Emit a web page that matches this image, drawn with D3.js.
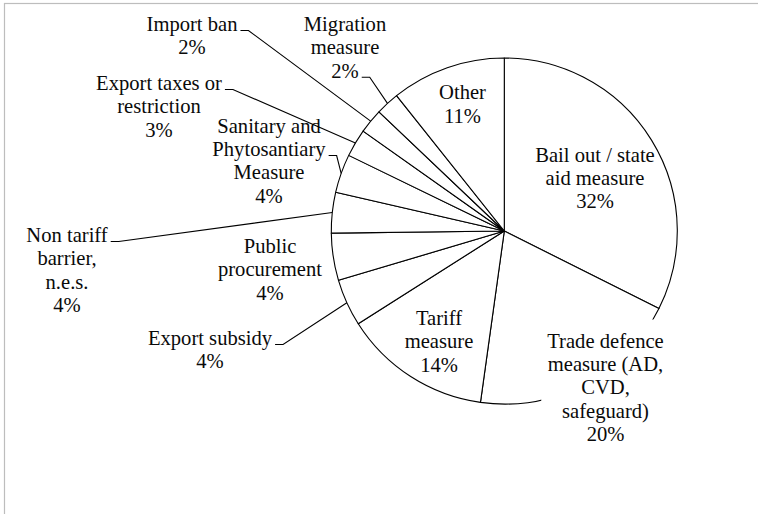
<!DOCTYPE html>
<html>
<head>
<meta charset="utf-8">
<script src="https://cdn.jsdelivr.net/npm/d3@7"></script>
<style>
  html, body { margin: 0; padding: 0; background: #fff; }
  svg { display: block; }
</style>
</head>
<body>
<svg id="chart" width="758" height="514"></svg>
<script>
// Share of measures, percent (clockwise from 12 o'clock)
const categories = [
  "Bail out / state aid measure",
  "Trade defence measure (AD, CVD, safeguard)",
  "Tariff measure",
  "Export subsidy",
  "Public procurement",
  "Non tariff barrier, n.e.s.",
  "Sanitary and Phytosantiary Measure",
  "Export taxes or restriction",
  "Import ban",
  "Migration measure",
  "Other"
];
const shares = [32.4, 19.8, 13.8, 4.4, 4.4, 3.8, 3.6, 2.6, 2.3, 2.2, 10.7];

// How each category name wraps in its label
const labelLines = [
  ["Bail out / state", "aid measure"],
  ["Trade defence", "measure (AD,", "CVD,", "safeguard)"],
  ["Tariff", "measure"],
  ["Export subsidy"],
  ["Public", "procurement"],
  ["Non tariff", "barrier,", "n.e.s."],
  ["Sanitary and", "Phytosantiary", "Measure"],
  ["Export taxes or", "restriction"],
  ["Import ban"],
  ["Migration", "measure"],
  ["Other"]
];

// Label placement: centre x, first baseline, line carrying the leader, opaque box
const labelLayout = [
  { x: 595,   y: 161.5 },
  { x: 605.5, y: 347.5, box: true },
  { x: 439,   y: 325 },
  { x: 210,   y: 345,   leader: 0 },
  { x: 270,   y: 253 },
  { x: 67,    y: 242,   leader: 0 },
  { x: 269,   y: 132.6, leader: 1 },
  { x: 159,   y: 90,    leader: 0 },
  { x: 192,   y: 31,    leader: 0 },
  { x: 345,   y: 31,    leader: 2 },
  { x: 462.5, y: 99.3 }
];

const W = 758, H = 514;
const cx = 504.3, cy = 231, R = 173;
const lineH = 23.4;

const svg = d3.select("#chart");

// chart area frame (only its top and left edges fall inside the view)
svg.append("rect")
  .attr("x", 4.5).attr("y", 3.5)
  .attr("width", W + 20).attr("height", H + 20)
  .attr("fill", "#fff")
  .attr("stroke", "#bdbdbd")
  .attr("stroke-width", 1.2);

const data = categories.map((c, i) => ({ name: c, value: shares[i], lines: labelLines[i], pos: labelLayout[i] }));

const pie = d3.pie().sort(null).value(d => d.value);
const arcs = pie(data);
const arc = d3.arc().innerRadius(0).outerRadius(R);

const g = svg.append("g").attr("transform", `translate(${cx},${cy})`);

g.selectAll("path.slice")
  .data(arcs)
  .join("path")
  .attr("class", "slice")
  .attr("d", arc)
  .attr("fill", "#fff")
  .attr("stroke", "#000")
  .attr("stroke-width", 1.1)
  .attr("stroke-linejoin", "round");

const fmt = v => Math.round(v) + "%";

// labels, with leader lines for the ones set outside the pie
const labels = svg.append("g").attr("class", "labels");
arcs.forEach(a => {
  const d = a.data;
  const rows = d.lines.concat([fmt(d.value)]);
  const lg = labels.append("g");
  const t = lg.append("text")
    .attr("text-anchor", "middle")
    .style("font-family", "Liberation Serif")
    .style("font-size", "20.6px")
    .style("fill", "#0a0a0a");
  rows.forEach((r, k) => {
    t.append("tspan").attr("x", d.pos.x).attr("y", d.pos.y + k * lineH).text(r);
  });

  if (d.pos.box) {
    const bb = t.node().getBBox();
    lg.insert("rect", "text")
      .attr("x", bb.x - 6).attr("y", bb.y - 10)
      .attr("width", bb.width + 10).attr("height", bb.height + 12)
      .attr("fill", "#fff");
  }

  if (d.pos.leader !== undefined) {
    const k = d.pos.leader;
    const span = t.selectAll("tspan").nodes()[k];
    const wdt = span.getComputedTextLength();
    const x0 = d.pos.x + wdt / 2 + 3;
    const y0 = d.pos.y + k * lineH - 0.5;
    const mid = (a.startAngle + a.endAngle) / 2;
    const ex = cx + R * Math.sin(mid);
    const ey = cy - R * Math.cos(mid);
    svg.append("path")
      .attr("d", d3.line()([[x0, y0], [x0 + 8, y0], [ex, ey]]))
      .attr("fill", "none")
      .attr("stroke", "#000")
      .attr("stroke-width", 1.1);
  }
});
</script>
</body>
</html>
